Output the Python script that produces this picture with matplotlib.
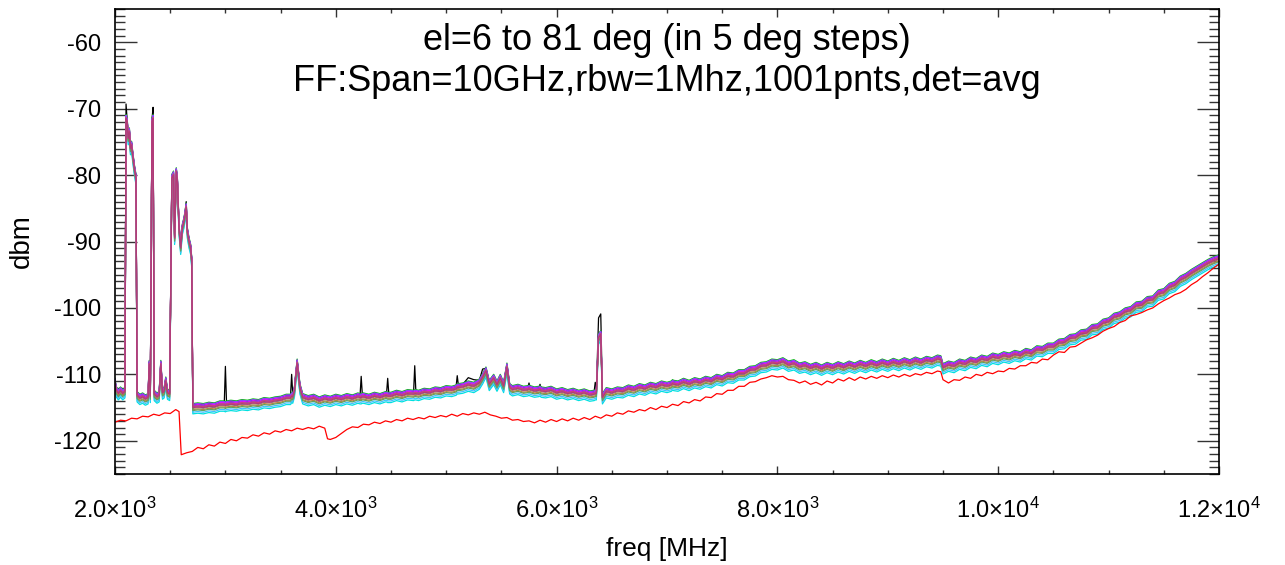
import numpy as np
import matplotlib
matplotlib.use('Agg')
import matplotlib.pyplot as plt
from matplotlib.ticker import MultipleLocator

plt.rcParams['font.family'] = ['Liberation Sans', 'DejaVu Sans']
plt.rcParams['mathtext.fontset'] = 'custom'
plt.rcParams['mathtext.rm'] = 'Liberation Sans'
plt.rcParams['mathtext.it'] = 'Liberation Sans'

# ---- data ----
# bundle of elevation scans (median level), MHz / dBm
freq = [2000, 2010, 2030, 2050, 2070, 2090, 2100, 2110, 2120, 2130, 2140, 2150, 2160, 2175, 2190,
        2200, 2225, 2250, 2275, 2300, 2310, 2320, 2335, 2345, 2355, 2380, 2400, 2415, 2430, 2445,
        2460, 2475, 2495, 2515, 2530, 2540, 2555, 2565, 2580, 2595, 2610, 2625, 2635, 2645, 2655,
        2670, 2685, 2695, 2705, 2750, 2800, 2850, 2900, 2950, 3000, 3050, 3100, 3150, 3200, 3250,
        3300, 3350, 3400, 3450, 3500, 3550, 3600, 3625, 3650, 3675, 3700, 3750, 3800, 3850, 3900,
        3950, 4000, 4050, 4100, 4150, 4200, 4230, 4250, 4300, 4350, 4400, 4450, 4470, 4500, 4550,
        4600, 4650, 4700, 4715, 4750, 4800, 4850, 4900, 4950, 5000, 5050, 5100, 5150, 5200, 5250,
        5300, 5330, 5360, 5390, 5430, 5460, 5490, 5520, 5550, 5575, 5600, 5650, 5700, 5750, 5800,
        5850, 5900, 5950, 6000, 6050, 6100, 6150, 6200, 6250, 6300, 6350, 6380, 6400, 6415, 6450,
        6500, 6550, 6600, 6650, 6700, 6750, 6800, 6850, 6900, 6950, 7000, 7050, 7100, 7150, 7200,
        7250, 7300, 7350, 7400, 7450, 7500, 7550, 7600, 7650, 7700, 7750, 7800, 7850, 7900, 7950,
        8000, 8050, 8100, 8150, 8200, 8250, 8300, 8350, 8400, 8450, 8500, 8550, 8600, 8650, 8700,
        8750, 8800, 8850, 8900, 8950, 9000, 9050, 9100, 9150, 9200, 9250, 9300, 9350, 9400, 9450,
        9480, 9500, 9550, 9600, 9650, 9700, 9750, 9800, 9850, 9900, 9950, 10000, 10050, 10100, 10150,
        10200, 10250, 10300, 10350, 10400, 10450, 10500, 10550, 10600, 10650, 10700, 10750, 10800, 10850, 10900,
        10950, 11000, 11050, 11100, 11150, 11200, 11250, 11300, 11350, 11400, 11450, 11500, 11550, 11600, 11650,
        11700, 11750, 11800, 11850, 11900, 11950, 12000]
base = [-111.2, -112.4, -112.9, -112.5, -112.9, -112.6, -71.5, -72.0, -74.5, -73.5, -76.0, -75.5, -77.0, -79.0, -80.5,
        -113.2, -113.6, -113.4, -113.7, -113.5, -108.5, -113.3, -72.0, -71.5, -113.0, -113.4, -113.2, -108.5, -112.8, -112.6,
        -111.0, -112.8, -113.0, -80.5, -80.0, -89.5, -79.5, -81.0, -88.0, -91.0, -88.0, -87.0, -86.0, -84.8, -88.5,
        -90.0, -91.0, -93.0, -115.0, -114.9, -115.0, -114.8, -114.9, -114.6, -114.7, -114.5, -114.6, -114.4, -114.5, -114.3,
        -114.4, -114.1, -114.2, -114.0, -113.9, -113.6, -113.3, -112.5, -108.3, -112.0, -113.5, -113.8, -113.6, -114.0, -113.7,
        -113.9, -113.6, -113.8, -113.5, -113.7, -113.4, -113.5, -113.4, -113.6, -113.3, -113.5, -113.2, -113.3, -113.3, -113.0,
        -113.2, -112.9, -113.0, -112.9, -113.0, -112.7, -112.8, -112.5, -112.6, -112.3, -112.4, -112.0, -111.9, -111.6, -111.8,
        -111.3, -110.5, -109.5, -111.5, -110.6, -111.6, -110.6, -111.8, -108.9, -112.0, -112.3, -112.1, -112.4, -112.2, -112.5,
        -112.3, -112.6, -112.4, -112.8, -112.6, -112.9, -112.7, -113.0, -112.8, -113.1, -112.9, -104.5, -104.0, -113.5, -112.6,
        -112.8, -112.5, -112.6, -112.2, -112.4, -112.0, -112.2, -111.8, -112.0, -111.6, -111.8, -111.4, -111.6, -111.2, -111.5,
        -111.1, -111.3, -110.9, -111.1, -110.6, -110.8, -110.3, -110.4, -109.9, -109.9, -109.4, -109.3, -108.8, -108.7, -108.3,
        -108.4, -108.1, -108.6, -108.4, -108.9, -108.7, -109.1, -108.8, -109.2, -108.8, -109.1, -108.7, -109.0, -108.6, -108.9,
        -108.5, -108.8, -108.4, -108.7, -108.3, -108.6, -108.2, -108.5, -108.1, -108.4, -108.0, -108.3, -107.9, -108.1, -107.7,
        -107.8, -109.0, -108.6, -108.8, -108.3, -108.5, -108.0, -108.2, -107.7, -107.9, -107.4, -107.6, -107.2, -107.4, -107.0,
        -107.2, -106.7, -106.9, -106.3, -106.4, -105.9, -105.9, -105.3, -105.2, -104.6, -104.5, -103.9, -103.8, -103.1, -103.0,
        -102.3, -102.1, -101.4, -101.2, -100.6, -100.4, -99.7, -99.6, -98.9, -98.8, -97.9, -97.7, -96.9, -96.6, -95.8,
        -95.4, -94.8, -94.3, -93.8, -93.3, -92.9, -92.6]

# extra baseline points beside the narrow lines (keeps them narrow)
shoulder_freq = [2990, 3010, 3590, 3610, 4220, 4240, 4460, 4480, 4705, 4725, 5090, 5110,
                 5740, 5760, 5840, 5860, 6340, 6360, 7040, 7060]
shoulder_base = [-114.6, -114.6, -113.6, -113.4, -113.5, -113.4, -113.2, -113.3, -113.0, -112.9, -112.2, -112.0,
                 -112.3, -112.3, -112.4, -112.5, -113.0, -112.9, -111.6, -111.5]

# narrow lines that only the first (black) scan shows, or shows higher
black_freq = [2100, 2345, 2645, 3000, 3600, 4230, 4470, 4715, 5100, 5200, 5250, 5330, 5750, 5850, 6350, 6380, 6400, 7050]
black_level = [-69.3, -69.8, -84.0, -108.8, -110.0, -110.3, -110.6, -108.7, -110.2, -110.5, -110.8, -109.2, -111.3, -111.5,
               -111.2, -101.5, -100.9, -110.9]

# per-scan level shift (dB) for the 16 elevations
elev = [6, 11, 16, 21, 26, 31, 36, 41, 46, 51, 56, 61, 66, 71, 76, 81]
offsets = [0.4, 0.6, 0.3, -0.95, 0.35, 0.1, 0.0, 0.5, -0.7, -0.1, -0.3, 0.05, -0.45, 0.2, 0.15, 0.0]
colors = ['black', '#00c000', '#0000ff', '#00e0e0', '#ff00ff', '#ff0000', '#ffa040', '#9040ff',
          '#40c0ff', '#808080', '#c08040', '#ff80c0', '#60a060', '#8060c0', '#d04080', '#b03c78']

# reference (lower red) trace
ref_freq = [2000, 2050, 2100, 2150, 2200, 2250, 2300, 2350, 2400, 2450, 2500, 2550, 2580, 2600, 2650,
            2700, 2750, 2800, 2850, 2900, 2950, 3000, 3050, 3100, 3150, 3200, 3250, 3300, 3350, 3400,
            3450, 3500, 3550, 3600, 3650, 3700, 3750, 3800, 3850, 3900, 3925, 3950, 4000, 4050, 4100,
            4150, 4200, 4250, 4300, 4350, 4400, 4450, 4500, 4550, 4600, 4650, 4700, 4750, 4800, 4850,
            4900, 4950, 5000, 5050, 5100, 5150, 5200, 5250, 5300, 5350, 5400, 5450, 5500, 5550, 5600,
            5650, 5700, 5750, 5800, 5850, 5900, 5950, 6000, 6050, 6100, 6150, 6200, 6250, 6300, 6350,
            6400, 6450, 6500, 6550, 6600, 6650, 6700, 6750, 6800, 6850, 6900, 6950, 7000, 7050, 7100,
            7150, 7200, 7250, 7300, 7350, 7400, 7450, 7500, 7550, 7600, 7650, 7700, 7750, 7800, 7850,
            7900, 7950, 8000, 8050, 8100, 8150, 8200, 8250, 8300, 8350, 8400, 8450, 8500, 8550, 8600,
            8650, 8700, 8750, 8800, 8850, 8900, 8950, 9000, 9050, 9100, 9150, 9200, 9250, 9300, 9350,
            9400, 9450, 9480, 9500, 9550, 9600, 9650, 9700, 9750, 9800, 9850, 9900, 9950, 10000, 10050,
            10100, 10150, 10200, 10250, 10300, 10350, 10400, 10450, 10500, 10550, 10600, 10650, 10700, 10750, 10800,
            10850, 10900, 10950, 11000, 11050, 11100, 11150, 11200, 11250, 11300, 11350, 11400, 11450, 11500, 11550,
            11600, 11650, 11700, 11750, 11800, 11850, 11900, 11950, 12000]
ref_level = [-117.2, -116.9, -117.0, -116.6, -116.7, -116.3, -116.4, -116.0, -116.2, -115.8, -115.9, -115.3, -115.6, -122.1, -121.8,
             -121.6, -121.0, -121.2, -120.6, -120.8, -120.2, -120.4, -119.8, -120.0, -119.5, -119.6, -119.1, -119.3, -118.8, -119.0,
             -118.5, -118.7, -118.3, -118.5, -118.1, -118.3, -118.0, -118.2, -117.8, -118.1, -119.7, -119.8, -119.5, -118.9, -118.3,
             -117.9, -118.0, -117.5, -117.6, -117.2, -117.4, -117.0, -117.2, -116.8, -117.0, -116.6, -116.8, -116.5, -116.7, -116.3,
             -116.5, -116.2, -116.4, -116.0, -116.3, -115.9, -116.1, -115.8, -116.0, -115.7, -116.1, -116.3, -116.6, -116.5, -116.9,
             -116.8, -117.1, -117.0, -117.3, -116.9, -117.2, -116.8, -117.1, -116.7, -117.0, -116.6, -116.9, -116.5, -116.8, -116.3,
             -116.6, -116.1, -116.3, -115.8, -116.0, -115.5, -115.7, -115.3, -115.5, -115.0, -115.3, -114.8, -115.0, -114.5, -114.7,
             -114.1, -114.3, -113.8, -114.0, -113.4, -113.5, -112.9, -113.0, -112.4, -112.4, -111.8, -111.8, -111.2, -111.1, -110.7,
             -110.5, -110.2, -110.4, -110.3, -110.8, -110.9, -111.3, -111.0, -111.5, -111.2, -111.6, -111.0, -111.3, -110.7, -111.0,
             -110.5, -110.9, -110.4, -110.7, -110.3, -110.6, -110.2, -110.5, -110.1, -110.4, -110.0, -110.3, -109.9, -110.1, -109.7,
             -109.9, -109.5, -109.6, -110.8, -111.3, -110.8, -110.9, -110.4, -110.6, -110.0, -110.2, -109.7, -109.9, -109.5, -109.6,
             -109.1, -109.2, -108.7, -108.7, -108.2, -108.3, -107.7, -107.8, -107.1, -106.6, -106.7, -105.9, -105.8, -105.3, -104.8,
             -104.5, -104.1, -103.5, -103.1, -102.8, -102.2, -101.9, -101.2, -101.0, -100.7, -100.3, -100.0, -99.4, -98.9, -98.5,
             -98.0, -97.7, -97.2, -96.5, -96.0, -95.3, -94.7, -94.0, -93.4]

xtick_vals = [2000, 4000, 6000, 8000, 10000, 12000]
xtick_text = ['2.0×10^{3}', '4.0×10^{3}', '6.0×10^{3}', '8.0×10^{3}', '1.0×10^{4}', '1.2×10^{4}']
ytick_vals = [-120, -110, -100, -90, -80, -70, -60]

# ---- plot ----
fig = plt.figure(figsize=(12.85, 5.65), dpi=100)
ax = fig.add_axes([115 / 1285, 1 - 474 / 565, 1104 / 1285, 465 / 565])

f = np.array(freq + shoulder_freq, dtype=float)
b = np.array(base + shoulder_base)
order = np.argsort(f, kind='stable')
f, b = f[order], b[order]
idx = np.searchsorted(f, black_freq)
for i, (off, col) in enumerate(zip(offsets, colors)):
    y = b + off
    if i == 0:
        y[idx] = np.array(black_level)
    ax.plot(f, y, color=col, lw=0.9)

ax.plot(ref_freq, ref_level, color='red', lw=0.9)

ax.set_xlim(2000, 12000)
ax.set_ylim(-125, -55)
ax.set_xticks(xtick_vals)
ax.set_xticklabels([r'$\mathrm{' + t + '}$' for t in xtick_text], fontsize=17)
ax.set_yticks(ytick_vals)
ax.set_yticklabels([str(v) for v in ytick_vals], fontsize=17)
ax.xaxis.set_minor_locator(MultipleLocator(500))
ax.yaxis.set_minor_locator(MultipleLocator(1))
ax.tick_params(axis='both', which='both', direction='in', top=True, right=True, color='#333333', width=1)
ax.tick_params(axis='x', which='major', length=6, pad=17)
ax.tick_params(axis='x', which='minor', length=3)
ax.tick_params(axis='y', which='major', length=16, pad=10)
ax.tick_params(axis='y', which='minor', length=7.5)
for s in ax.spines.values():
    s.set_linewidth(1.2)

ax.set_xlabel('freq [MHz]', fontsize=19, labelpad=10)
ax.set_ylabel('dbm', fontsize=20, labelpad=14)

ax.text(0.5, 0.932, 'el=6 to 81 deg (in 5 deg steps)', transform=ax.transAxes,
        ha='center', va='center', fontsize=26)
ax.text(0.5, 0.845, 'FF:Span=10GHz,rbw=1Mhz,1001pnts,det=avg', transform=ax.transAxes,
        ha='center', va='center', fontsize=26)

fig.savefig('out.png', dpi=100)
